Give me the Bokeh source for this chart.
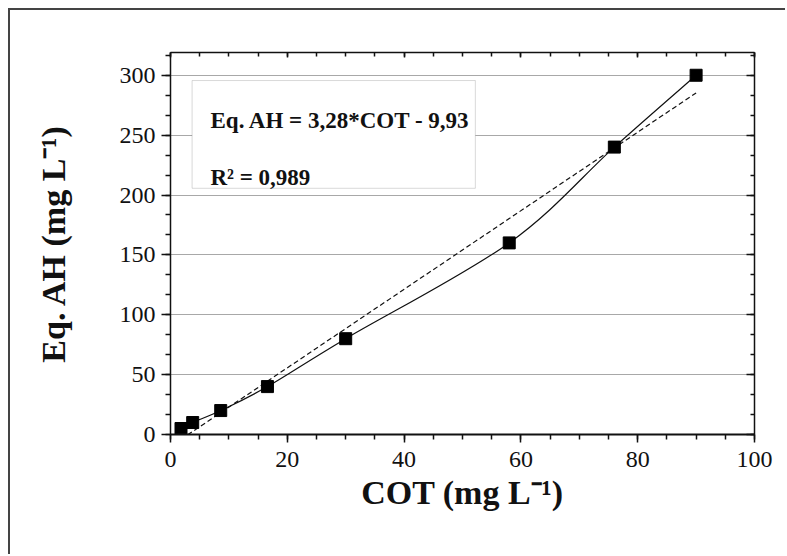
import numpy as np
from bokeh.plotting import figure
from bokeh.models import (Range1d, LinearAxis, SingleIntervalTicker, BoxAnnotation,
                          Label, CustomJSTickFormatter, Grid)
from bokeh.embed import file_html
from bokeh.resources import INLINE

# ---- data ----
cot = [1.8, 3.8, 8.6, 16.6, 30.0, 58.0, 76.0, 90.0]        # COT (mg L-1)
eq_ah = [5, 10, 20, 40, 80, 160, 240, 300]                  # Eq. AH (mg L-1)
fit_slope = 3.28
fit_intercept = -9.93
fit_text = "Eq. AH = 3,28*COT - 9,93"
r2_text = "R² = 0,989"
x_title = "COT (mg L⁻¹)"
y_title = "Eq. AH (mg L⁻¹)"
x_ticks_interval = 20
y_ticks_interval = 50

SERIF = "Liberation Serif"
INK = "#111111"

p = figure(width=777, height=546, output_backend="svg", toolbar_location=None,
           x_range=Range1d(0, 100), y_range=Range1d(0, 319),
           x_axis_type=None, y_axis_type=None,
           min_border_left=160, min_border_right=33,
           min_border_top=42, min_border_bottom=122,
           background_fill_color="white", border_fill_color="white",
           stylesheets=[":host { margin: 8px 0 0 8px; border-left: 2px solid #444444;"
                        " border-top: 2px solid #444444; }"])
p.outline_line_color = None

xt = SingleIntervalTicker(interval=x_ticks_interval, num_minor_ticks=4)
yt = SingleIntervalTicker(interval=y_ticks_interval, num_minor_ticks=3)
blank = CustomJSTickFormatter(code="return ''")


def style(ax, maj_out, min_out, maj_in, min_in):
    ax.axis_line_color = INK
    ax.axis_line_width = 1.5
    ax.major_tick_line_color = INK
    ax.major_tick_line_width = 1.5
    ax.minor_tick_line_color = INK
    ax.minor_tick_line_width = 1.5
    ax.major_tick_out = maj_out
    ax.major_tick_in = maj_in
    ax.minor_tick_out = min_out
    ax.minor_tick_in = min_in
    ax.major_label_text_font = SERIF
    ax.major_label_text_font_size = "24px"
    ax.major_label_text_color = INK
    ax.axis_label_text_font = SERIF
    ax.axis_label_text_font_style = "bold"
    ax.axis_label_text_font_size = "34px"
    ax.axis_label_text_color = INK


bottom = LinearAxis(ticker=xt, axis_label=x_title)
style(bottom, 8, 5, 0, 0)
bottom.axis_line_width = 2
bottom.major_label_standoff = 9
bottom.axis_label_standoff = 4
p.add_layout(bottom, "below")

left = LinearAxis(ticker=yt, axis_label=y_title)
style(left, 9, 5, 0, 0)
left.major_label_standoff = 6
left.axis_label_standoff = 45
p.add_layout(left, "left")

top = LinearAxis(ticker=xt, formatter=blank)
style(top, 0, 0, 5, 4)
top.major_label_standoff = 0
p.add_layout(top, "above")

right = LinearAxis(ticker=yt, formatter=blank)
style(right, 0, 0, 8, 4)
right.major_label_standoff = 0
p.add_layout(right, "right")

p.add_layout(Grid(dimension=1, ticker=yt, grid_line_color="#a8a8a8", grid_line_width=1))

# smooth connecting curve (Catmull-Rom style bezier through the data points)
x = np.array(cot, dtype=float)
y = np.array(eq_ah, dtype=float)
xp = np.concatenate([[x[0]], x, [x[-1]]])
yp = np.concatenate([[y[0]], y, [y[-1]]])
cx0 = xp[1:-2] + (xp[2:-1] - xp[:-3]) / 6
cy0 = yp[1:-2] + (yp[2:-1] - yp[:-3]) / 6
cx1 = xp[2:-1] - (xp[3:] - xp[1:-2]) / 6
cy1 = yp[2:-1] - (yp[3:] - yp[1:-2]) / 6
p.bezier(x0=x[:-1], y0=y[:-1], x1=x[1:], y1=y[1:],
         cx0=cx0, cy0=cy0, cx1=cx1, cy1=cy1, line_color=INK, line_width=1.2)

# linear fit (dashed)
fx = np.array([cot[0], cot[-1]])
p.line(fx, fit_slope * fx + fit_intercept, line_color=INK, line_width=1.2, line_dash="5 3")

p.scatter(cot, eq_ah, marker="square", size=12, fill_color="black", line_color="black")

# equation box
p.add_layout(BoxAnnotation(left=3.7, right=52.2, top=295.6, bottom=205.6,
                           fill_color="white", fill_alpha=1.0,
                           line_color="#808080", line_width=1))
for txt, yy in [(fit_text, 262.1), (r2_text, 214.8)]:
    p.add_layout(Label(x=6.85, y=yy, text=txt, text_font=SERIF, text_font_style="bold",
                       text_font_size="23px", text_color=INK, text_baseline="alphabetic"))

open("out.html", "w").write(file_html(p, INLINE))
